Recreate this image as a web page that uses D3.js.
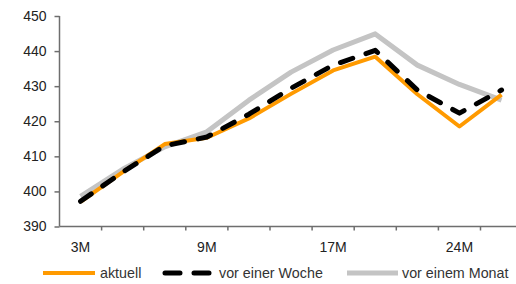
<!DOCTYPE html>
<html lang="de">
<head>
<meta charset="UTF-8">
<title>Kurve</title>
<script src="https://d3js.org/d3.v7.min.js"></script>
<style>
    html, body { margin: 0; padding: 0; background: #fff; }
    svg { display: block; overflow: hidden; }
    .axis text { font-family: "Liberation Sans", Arial, sans-serif; font-size: 14px; fill: #222; }
    .axis path, .axis line { stroke: #6e6e6e; stroke-width: 1.5px; }
    .legend text { font-family: "Liberation Sans", Arial, sans-serif; font-size: 14.3px; fill: #333; }
</style>
</head>
<body>
<svg id="chart" width="516" height="284"></svg>
<script>
    // --- Data ---
    const categories = ["3M", "5M", "7M", "9M", "12M", "15M", "17M", "19M", "21M", "24M", "27M"];
    const shownLabels = ["3M", "9M", "17M", "24M"];
    const aktuell = [397, 405.5, 413.5, 415.3, 420.8, 427.8, 434.5, 438.4, 427.7, 418.5, 427.6];
    const vorWoche = [397.2, 405.5, 413, 415.5, 422, 429.4, 436, 440.2, 428.9, 422.3, 428.9];
    const vorMonat = [398.6, 406.3, 412.7, 417, 426, 434, 440.3, 444.9, 436, 430.5, 426];
    const yTicks = [390, 400, 410, 420, 430, 440, 450];

    const series = [
        { name: "vor einem Monat", values: vorMonat, color: "#c4c4c4", width: 5, dash: null },
        { name: "aktuell", values: aktuell, color: "#ff9a00", width: 4, dash: null },
        { name: "vor einer Woche", values: vorWoche, color: "#000", width: 5, dash: "13,14" }
    ];

    const svg = d3.select("#chart");
    const plotLeft = 59.5, plotTop = 16, plotBottom = 226.5;
    const step = 42.1;

    const x = d3.scaleBand()
        .domain(categories)
        .range([plotLeft, plotLeft + step * categories.length])
        .padding(0);
    const y = d3.scaleLinear().domain([390, 450]).range([plotBottom, plotTop]);

    // y axis
    const yAxis = d3.axisLeft(y).tickValues(yTicks).tickSize(5).tickPadding(8).tickFormat(d3.format("d"));
    svg.append("g").attr("class", "axis")
        .attr("transform", `translate(${plotLeft},0)`)
        .call(yAxis)
        .call(g => g.select(".domain").attr("d", `M0,${plotTop}V${plotBottom}`));

    // x axis: tick marks between categories, labels every third category
    const xg = svg.append("g").attr("class", "axis");
    xg.append("line")
        .attr("x1", plotLeft).attr("x2", x.range()[1])
        .attr("y1", plotBottom).attr("y2", plotBottom);
    xg.selectAll(".tk")
        .data(categories.slice(1))
        .join("line")
        .attr("class", "tk")
        .attr("x1", d => x(d)).attr("x2", d => x(d))
        .attr("y1", plotBottom).attr("y2", plotBottom + 4);
    xg.selectAll(".lbl")
        .data(shownLabels)
        .join("text")
        .attr("class", "lbl")
        .attr("x", d => x(d) + x.bandwidth() / 2)
        .attr("y", plotBottom + 25)
        .attr("text-anchor", "middle")
        .text(d => d);

    // lines
    const line = d3.line()
        .x((d, i) => x(categories[i]) + x.bandwidth() / 2)
        .y(d => y(d));

    svg.selectAll(".series")
        .data(series)
        .join("path")
        .attr("class", "series")
        .attr("fill", "none")
        .attr("stroke", d => d.color)
        .attr("stroke-width", d => d.width)
        .attr("stroke-dasharray", d => d.dash)
        .attr("stroke-linecap", d => d.dash ? "round" : "butt")
        .attr("stroke-linejoin", "round")
        .attr("d", d => line(d.values));

    // legend
    const legendItems = [
        { s: series[1], x1: 43, x2: 95, tx: 100 },
        { s: series[2], x1: 165, x2: 210, tx: 219 },
        { s: series[0], x1: 347, x2: 398, tx: 402 }
    ];
    const legend = svg.append("g").attr("class", "legend");
    const ly = 273;
    legendItems.forEach(it => {
        legend.append("line")
            .attr("x1", it.x1).attr("x2", it.x2)
            .attr("y1", ly).attr("y2", ly)
            .attr("stroke", it.s.color)
            .attr("stroke-width", it.s.width)
            .attr("stroke-dasharray", it.s.dash ? "15,14" : null)
            .attr("stroke-linecap", it.s.dash ? "round" : "butt");
        legend.append("text")
            .attr("x", it.tx).attr("y", ly + 5)
            .text(it.s.name);
    });
</script>
</body>
</html>
